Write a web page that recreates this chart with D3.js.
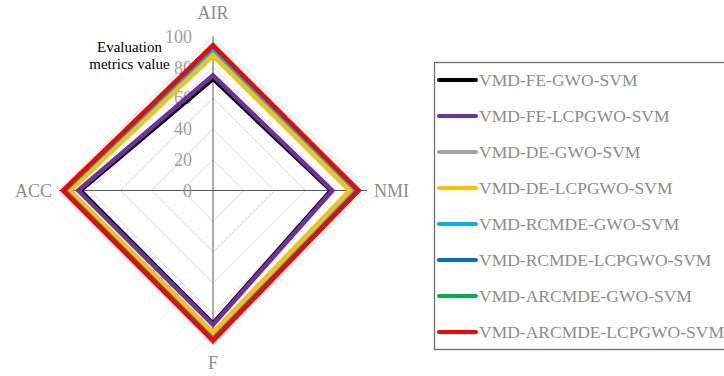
<!DOCTYPE html>
<html><head><meta charset="utf-8">
<script src="https://cdn.jsdelivr.net/npm/d3@7"></script>
<style>body{margin:0;background:#fff}svg{display:block}text{font-family:'Liberation Serif','Times New Roman',serif}</style>
</head><body>
<svg id="c" width="724" height="376"></svg>
<script>
const axes = ["AIR", "NMI", "F", "ACC"];
const ticks = [0, 20, 40, 60, 80, 100];
const seriesNames = ["VMD-FE-GWO-SVM","VMD-FE-LCPGWO-SVM","VMD-DE-GWO-SVM","VMD-DE-LCPGWO-SVM","VMD-RCMDE-GWO-SVM","VMD-RCMDE-LCPGWO-SVM","VMD-ARCMDE-GWO-SVM","VMD-ARCMDE-LCPGWO-SVM"];
const seriesColors = ["#000000","#7030a0","#a5a5a5","#ffc000","#00b0f0","#0070c0","#00b050","#ff0000"];
const fe_gwo      = [71.9, 76.0, 85.7, 85.5];
const fe_lcpgwo   = [74.8, 77.5, 87.2, 87.5];
const de_gwo      = [87.7, 88.8, 92.4, 92.9];
const de_lcpgwo   = [87.8, 88.9, 92.5, 93.0];
const rcmde_gwo   = [92.0, 93.0, 96.6, 96.5];
const rcmde_lcpgwo= [94.0, 94.3, 96.6, 96.5];
const arcmde_gwo  = [94.2, 94.4, 97.2, 97.0];
const arcmde_lcpgwo=[94.2, 94.4, 97.6, 97.4];
const seriesValues = [fe_gwo, fe_lcpgwo, de_gwo, de_lcpgwo, rcmde_gwo, rcmde_lcpgwo, arcmde_gwo, arcmde_lcpgwo];

const svg = d3.select("#c");
const cx = 213, cy = 190.5;
const r = d3.scaleLinear().domain([0, 100]).range([0, 154]);
const angle = a => axes.indexOf(a) * 2*Math.PI/axes.length;
const g = svg.append("g").attr("transform", `translate(${cx},${cy})`);
const pt = (a, v) => [Math.sin(angle(a))*r(v), -Math.cos(angle(a))*r(v)];
const radial = d3.lineRadial().angle((d,i) => angle(axes[i])).radius(d => r(d)).curve(d3.curveLinearClosed);

// grid
ticks.filter(t => t > 0).forEach(t => {
  g.append("path").attr("d", radial(axes.map(() => t)))
    .attr("fill", "none").attr("stroke", "#d9d9d9").attr("stroke-width", 1);
});
// spokes
axes.forEach(a => {
  const p = pt(a, 100);
  g.append("line").attr("x1", 0).attr("y1", 0).attr("x2", p[0]).attr("y2", p[1])
    .attr("stroke", "#5a5a5a").attr("stroke-width", 1);
});
// tick labels
ticks.forEach(t => {
  g.append("text").attr("x", -21).attr("y", -r(t)).attr("dy", "0.35em")
    .attr("text-anchor", "end").attr("fill", "#a0a0a0")
    .attr("font-size", 18).text(t);
});
// series
seriesValues.forEach((vals, i) => {
  g.append("path").attr("d", radial(vals)).attr("fill", "none")
    .attr("stroke", seriesColors[i]).attr("stroke-width", i === 0 ? 3 : 4.5)
    .attr("stroke-linejoin", "miter");
});
// axis labels
const lab = {AIR: [0, -172, "middle"], NMI: [161, 6, "start"], F: [0, 178, "middle"], ACC: [-161, 6, "end"]};
axes.forEach(a => {
  g.append("text").attr("x", lab[a][0]).attr("y", lab[a][1]).attr("text-anchor", lab[a][2])
    .attr("fill", "#8c8c8c").attr("font-size", 18).text(a);
});
// axis title
svg.append("text").attr("x", 129.5).attr("y", 52).attr("text-anchor", "middle")
  .attr("font-size", 15).attr("fill", "#000").text("Evaluation");
svg.append("text").attr("x", 129.5).attr("y", 69).attr("text-anchor", "middle")
  .attr("font-size", 15).attr("fill", "#000").text("metrics value");

// legend
const lg = svg.append("g");
lg.append("rect").attr("x", 434.5).attr("y", 62.5).attr("width", 300).attr("height", 287)
  .attr("fill", "none").attr("stroke", "#6e6e6e").attr("stroke-width", 1.3);
const ly = d3.scalePoint().domain(seriesNames).range([80, 332]);
seriesNames.forEach((n, i) => {
  lg.append("line").attr("x1", 439).attr("x2", 476).attr("y1", ly(n)).attr("y2", ly(n))
    .attr("stroke", seriesColors[i]).attr("stroke-width", 4).attr("stroke-linecap", "round");
  lg.append("text").attr("x", 479).attr("y", ly(n)).attr("dy", "0.35em")
    .attr("fill", "#8c8c8c").attr("font-size", 17.5).text(n);
});
</script>
</body></html>
